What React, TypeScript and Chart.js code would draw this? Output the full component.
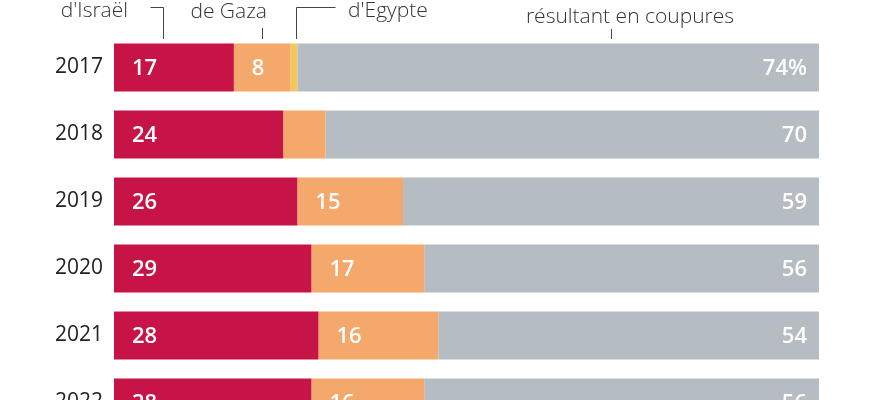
import React, { useEffect, useRef } from "react";
import { Chart, registerables } from "chart.js";

Chart.register(...registerables);

const years = ["2017", "2018", "2019", "2020", "2021", "2022"];
const israel = [17, 24, 26, 28, 29, 28];
const gaza = [8, 6, 15, 16, 17, 16];
const egypt = [1, 0, 0, 0, 0, 0];
const cuts = [74, 70, 59, 56, 54, 56];
const israelLabels = ["17", "24", "26", "29", "28", "28"];
const gazaLabels = ["8", "", "15", "17", "16", "16"];
const cutLabels = ["74%", "70", "59", "56", "54", "56"];
const headerTexts = ["d'Israël", "de Gaza", "d'Egypte", "résultant en coupures"];

const FONT = "'Open Sans', 'Noto Sans', sans-serif";

const labelPlugin = {
  id: "barLabels",
  afterDatasetsDraw(chart: any) {
    const ctx = chart.ctx;
    const size = 22;
    ctx.save();
    ctx.font = `600 ${size}px ${FONT}`;
    ctx.fillStyle = "#ffffff";
    ctx.textBaseline = "alphabetic";
    const specs = [
      { ds: 0, labels: israelLabels, align: "left" },
      { ds: 1, labels: gazaLabels, align: "left" },
      { ds: 3, labels: cutLabels, align: "right" },
    ];
    specs.forEach((s) => {
      const meta = chart.getDatasetMeta(s.ds);
      meta.data.forEach((el: any, i: number) => {
        const t = s.labels[i];
        if (!t) return;
        const y = el.y + size * 0.36;
        ctx.textAlign = s.align;
        const left = Math.min(el.x, el.base);
        const right = Math.max(el.x, el.base);
        if (s.align === "left") ctx.fillText(t, left + 18, y);
        else ctx.fillText(t, right - 12, y);
      });
    });
    ctx.restore();
  },
};

const headerPlugin = {
  id: "header",
  afterDraw(chart: any) {
    const ctx = chart.ctx;
    const xs = chart.scales.x;
    const top = chart.chartArea.top;
    const px = (v: number) => Math.round(xs.getPixelForValue(v)) + 0.5;
    ctx.save();
    ctx.strokeStyle = "#444444";
    ctx.lineWidth = 1;
    ctx.fillStyle = "#333333";
    ctx.font = `300 21px ${FONT}`;
    ctx.textBaseline = "alphabetic";

    // Israël
    const a = px(7);
    ctx.beginPath();
    ctx.moveTo(a - 13, 7.5);
    ctx.lineTo(a, 7.5);
    ctx.lineTo(a, top + 5);
    ctx.stroke();
    ctx.textAlign = "right";
    ctx.fillText(headerTexts[0], 128, 17);

    // Gaza
    const b = px(21);
    ctx.beginPath();
    ctx.moveTo(b, 28);
    ctx.lineTo(b, top + 5);
    ctx.stroke();
    ctx.textAlign = "right";
    ctx.fillText(headerTexts[1], 267, 18);

    // Egypte
    const c = px(25.8);
    ctx.beginPath();
    ctx.moveTo(c, top + 5);
    ctx.lineTo(c, 7.5);
    ctx.lineTo(c + 39, 7.5);
    ctx.stroke();
    ctx.textAlign = "left";
    ctx.fillText(headerTexts[2], 348, 17);

    // coupures
    const d = px(70.5);
    ctx.beginPath();
    ctx.moveTo(d, 29);
    ctx.lineTo(d, top + 5);
    ctx.stroke();
    ctx.textAlign = "center";
    ctx.fillText(headerTexts[3], 630, 23);
    ctx.restore();
  },
};

export default function App() {
  const ref = useRef<HTMLCanvasElement | null>(null);
  useEffect(() => {
    document.body.style.margin = "0";
    const canvas = ref.current;
    if (!canvas) return;
    const chart = new Chart(canvas, {
      type: "bar",
      data: {
        labels: years,
        datasets: [
          { label: "Israël", data: israel, backgroundColor: "#C51445" },
          { label: "Gaza", data: gaza, backgroundColor: "#F4A86B" },
          { label: "Egypte", data: egypt, backgroundColor: "#F3C75A" },
          { label: "Coupures", data: cuts, backgroundColor: "#B5BDC3" },
        ],
      },
      options: {
        indexAxis: "y",
        responsive: false,
        maintainAspectRatio: false,
        animation: false,
        devicePixelRatio: 1,
        layout: { padding: { top: 34, right: 64, bottom: 4, left: 0 } },
        datasets: {
          bar: {
            barPercentage: 0.716,
            categoryPercentage: 1,
            borderWidth: 0,
            borderSkipped: false,
          },
        },
        plugins: {
          legend: { display: false },
          tooltip: { enabled: false },
          title: { display: false },
        },
        scales: {
          x: {
            stacked: true,
            min: 0,
            max: 100,
            display: false,
          },
          y: {
            stacked: true,
            grid: { display: false, drawTicks: false },
            border: { display: false },
            ticks: {
              color: "#222222",
              padding: 11,
              font: { family: FONT, size: 21 },
            },
            afterFit(scale: any) {
              scale.width = 114;
              scale.paddingTop = 0;
              scale.paddingBottom = 0;
            },
          },
        },
      },
      plugins: [labelPlugin, headerPlugin],
    } as any);
    return () => chart.destroy();
  }, []);
  return (
    <div style={{ width: 883, height: 400, overflow: "hidden", position: "relative", background: "#fff" }}>
      <canvas ref={ref} width={883} height={440} style={{ display: "block", width: 883, height: 440 }} />
    </div>
  );
}
